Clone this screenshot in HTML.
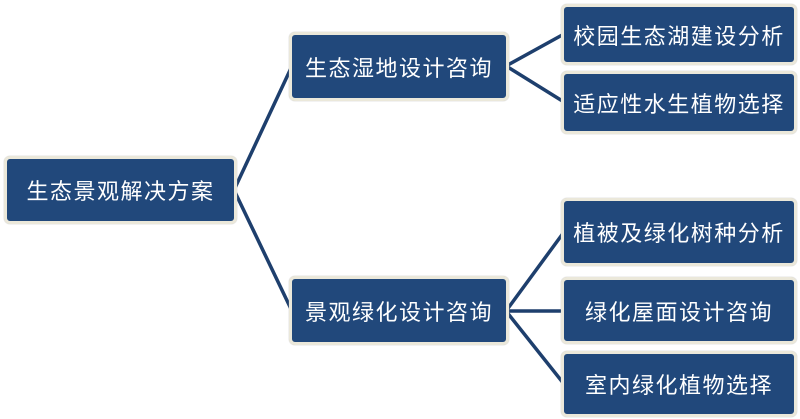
<!DOCTYPE html>
<html><head><meta charset="utf-8"><style>
body{margin:0;width:800px;height:419px;background:#fff;position:relative;overflow:hidden;font-family:"Liberation Sans","Noto Sans CJK SC",sans-serif}
.b{position:absolute;box-sizing:border-box;background:#21487b;border:3px solid #ebe8da;border-radius:6px;color:#fff;font-size:22px;display:flex;align-items:center;justify-content:center;letter-spacing:1.5px;box-shadow:0 0 1px #aaa}
svg{position:absolute;left:0;top:0}
</style></head><body>
<svg width="800" height="419"><g stroke="#1e3f6d" stroke-width="3.5" fill="none">
<path d="M234 190 L292 66 M234 190 L292 311"/>
<path d="M506 66 L564 34 M506 66 L564 102"/>
<path d="M506 311 L564 232 M506 311 L564 311 M506 311 L564 384"/>
</g></svg>
<div class="b" style="left:4px;top:156px;width:233px;height:68px">生态景观解决方案</div>
<div class="b" style="left:289px;top:32px;width:220px;height:69px">生态湿地设计咨询</div>
<div class="b" style="left:289px;top:276px;width:220px;height:69px">景观绿化设计咨询</div>
<div class="b" style="left:561px;top:4px;width:236px;height:61px">校园生态湖建设分析</div>
<div class="b" style="left:561px;top:71px;width:236px;height:63px">适应性水生植物选择</div>
<div class="b" style="left:561px;top:198px;width:236px;height:68px">植被及绿化树种分析</div>
<div class="b" style="left:561px;top:277px;width:236px;height:67px">绿化屋面设计咨询</div>
<div class="b" style="left:561px;top:351px;width:236px;height:66px">室内绿化植物选择</div>
</body></html>
